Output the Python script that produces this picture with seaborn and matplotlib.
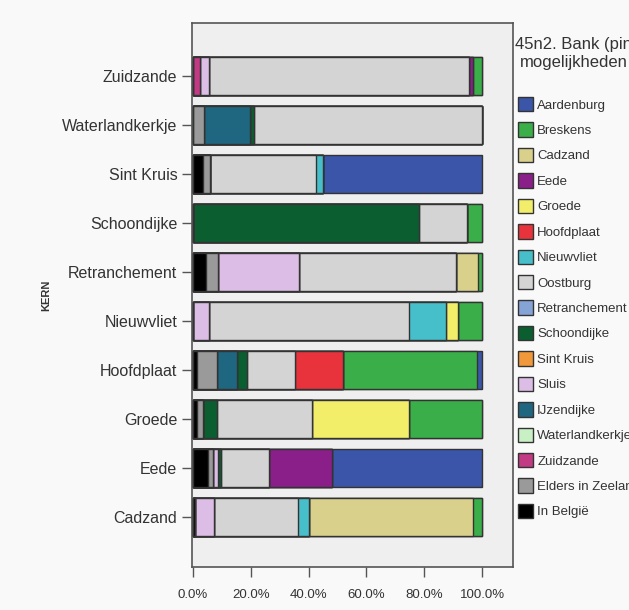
"""
Stacked horizontal bar chart: bank (pin) usage per village (KERN).
Each bar shows the share of respondents per destination, left to right
in reverse legend order, the way SPSS stacks them.
"""

import numpy as np  # Array work for cumulative sums
import pandas as pd  # DataFrame for seaborn
import matplotlib
matplotlib.use("Agg")  # No display available
import matplotlib.pyplot as plt  # Figure handling
import seaborn as sns  # Bar drawing

# Villages, top to bottom
kern = ["Zuidzande", "Waterlandkerkje", "Sint Kruis", "Schoondijke", "Retranchement",
        "Nieuwvliet", "Hoofdplaat", "Groede", "Eede", "Cadzand"]

# Destinations in legend order
bestemming = ["Aardenburg", "Breskens", "Cadzand", "Eede", "Groede", "Hoofdplaat",
              "Nieuwvliet", "Oostburg", "Retranchement", "Schoondijke", "Sint Kruis",
              "Sluis", "IJzendijke", "Waterlandkerkje", "Zuidzande",
              "Elders in Zeeland", "In België"]

kleuren = ["#3b55a8", "#3aae48", "#d9d08c", "#8a1f8a", "#f2ee6a", "#e8333c",
           "#47bfca", "#d4d4d4", "#86a3d6", "#0b5e30", "#f0983a",
           "#dcbde6", "#1f6680", "#c9efc4", "#c23a84", "#9a9a9a", "#000000"]

# Share (%) per destination, same order as bestemming
zuidzande = [0, 3.1, 0, 1.5, 0, 0, 0, 89.9, 0, 0, 0, 3.0, 0, 0, 2.5, 0, 0]
waterlandkerkje = [0, 0, 0, 0, 0, 0, 0, 78.7, 0, 1.7, 0, 0, 15.6, 0, 0, 4.0, 0]
sint_kruis = [54.9, 0, 0, 0, 0, 0, 2.5, 36.6, 0, 0, 0, 0, 0, 0, 0, 2.5, 3.5]
schoondijke = [0, 5.2, 0, 0, 0, 0, 0, 16.5, 0, 78.3, 0, 0, 0, 0, 0, 0, 0]
retranchement = [0, 1.5, 7.5, 0, 0, 0, 0, 54.4, 0, 0, 0, 28.0, 0, 0, 0, 4.0, 4.6]
nieuwvliet = [0, 8.4, 0, 0, 4.0, 0, 12.7, 69.4, 0, 0, 0, 5.5, 0, 0, 0, 0, 0]
hoofdplaat = [1.6, 46.4, 0, 0, 0, 16.7, 0, 16.7, 0, 3.5, 0, 0, 6.9, 0, 0, 6.9, 1.3]
groede = [0, 25.2, 0, 0, 33.6, 0, 0, 32.8, 0, 4.8, 0, 0, 0, 0, 0, 2.3, 1.3]
eede = [52.0, 0, 0, 21.6, 0, 0, 0, 16.7, 0, 1.0, 0, 1.7, 0, 0, 0, 1.8, 5.2]
cadzand = [0, 3.2, 56.5, 0, 0, 0, 4.0, 28.9, 0, 0, 0, 6.6, 0, 0, 0, 0, 0.8]

aandelen = [zuidzande, waterlandkerkje, sint_kruis, schoondijke, retranchement,
            nieuwvliet, hoofdplaat, groede, eede, cadzand]

x_ticks = [0, 20, 40, 60, 80, 100]


def build_frame():
    """Right edge of every segment: sum of itself and everything left of it."""
    shares = np.array(aandelen, dtype=float)  # rows = kern, cols = bestemming
    right_edges = np.cumsum(shares[:, ::-1], axis=1)[:, ::-1]  # stack from In België
    frame = pd.DataFrame(right_edges, columns=bestemming)
    frame["KERN"] = kern
    return frame


def plot_chart(frame, save_path="out.png"):
    sns.set_theme(style="white")
    plt.rcParams["font.family"] = ["Liberation Sans", "DejaVu Sans"]

    fig = plt.figure(figsize=(6.29, 6.10), dpi=100, facecolor="#f9f9f9")
    ax = fig.add_axes([192 / 629, 43 / 610, 321 / 629, 544 / 610])
    ax.set_facecolor("#efefef")

    # Widest bars first, narrower ones drawn on top -> stacked look
    for naam, kleur in zip(bestemming, kleuren):
        sns.barplot(data=frame, x=naam, y="KERN", order=kern, color=kleur,
                    saturation=1, width=0.78, edgecolor="#333333", linewidth=1.0,
                    errorbar=None, label=naam, ax=ax)

    handles, labels = ax.get_legend_handles_labels()
    if ax.get_legend() is not None:
        ax.get_legend().remove()  # seaborn puts one inside the axes

    ax.set_xlim(-0.3, 110.7)
    ax.set_ylim(len(kern) - 1 + 1.02, -1.08)
    ax.set_xticks(x_ticks)
    ax.set_xticklabels([f"{v:.1f}%" for v in x_ticks], fontsize=9.5, color="#333333")
    ax.tick_params(axis="y", labelsize=11.5, labelcolor="#333333")
    ax.tick_params(axis="x", pad=9)
    ax.tick_params(bottom=True, left=True, length=7, width=1, color="#555555")
    ax.set_xlabel("")
    ax.set_ylabel("KERN", fontsize=8, fontweight="bold", color="#333333", labelpad=8)

    for spine in ax.spines.values():
        spine.set_color("#555555")
        spine.set_linewidth(1.2)

    # Legend outside on the right, cut off by the figure edge like the original
    fig.text(515 / 629, 1 - 44 / 610, "45n2. Bank (pin)", fontsize=12,
             color="#333333", va="center", ha="left")
    fig.text(520 / 629, 1 - 62 / 610, "mogelijkheden", fontsize=12,
             color="#333333", va="center", ha="left")
    leg = fig.legend(handles, labels, loc="upper left",
                     bbox_to_anchor=(518 / 629, 1 - 97 / 610),
                     fontsize=9.5, frameon=False,
                     borderpad=0, borderaxespad=0, handlelength=1.15,
                     handleheight=1.3, handletextpad=0.3, labelspacing=0.82)
    for text in leg.get_texts():
        text.set_color("#333333")

    fig.savefig(save_path, dpi=100, facecolor=fig.get_facecolor())
    plt.close(fig)


if __name__ == "__main__":
    plot_chart(build_frame())
